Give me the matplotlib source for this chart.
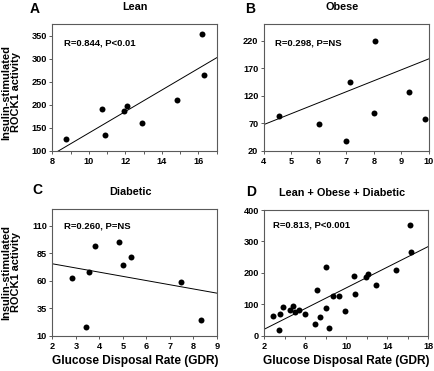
import matplotlib
matplotlib.use("Agg")
import matplotlib.pyplot as plt
import numpy as np

plt.rcParams['font.family'] = ['Liberation Sans', 'DejaVu Sans']
plt.rcParams['font.weight'] = 'bold'

# ---- data ----
lean_gdr = [8.75, 10.73, 10.89, 11.91, 12.09, 12.91, 14.80, 16.20, 16.29]
lean_rock = [125, 191, 134, 187, 197, 160, 210, 353, 265]

obese_gdr = [4.56, 6.02, 6.99, 7.13, 8.00, 8.04, 9.26, 9.85]
obese_rock = [83, 68, 38, 145, 88, 220, 127, 78]

diab_gdr = [2.83, 3.44, 3.56, 3.82, 4.83, 5.02, 5.36, 7.45, 8.30]
diab_rock = [62, 18, 68, 91, 95, 74, 81, 59, 24]

all_gdr = lean_gdr + obese_gdr + diab_gdr
all_rock = lean_rock + obese_rock + diab_rock

# regression lines as printed (slope, intercept)
fit_slopes = [23.3, 19.9, -3.81, 16.5]
fit_intercepts = [-94.1, -12.0, 82.9, -12.8]

panel_letters = ['A', 'B', 'C', 'D']
panel_titles = ['Lean', 'Obese', 'Diabetic', 'Lean + Obese + Diabetic']
stats_text = ['R=0.844, P<0.01', 'R=0.298, P=NS', 'R=0.260, P=NS', 'R=0.813, P<0.001']

xlims = [(8, 17), (4, 10), (2, 9), (2, 18)]
xticks = [[8, 10, 12, 14, 16], [4, 5, 6, 7, 8, 9, 10], [2, 3, 4, 5, 6, 7, 8, 9], [2, 6, 10, 14, 18]]
xminor = [[9, 11, 13, 15, 17], [], [], [4, 8, 12, 16]]
ylims = [(100, 375), (20, 250), (10, 125), (0, 400)]
yticks = [[100, 150, 200, 250, 300, 350], [20, 70, 120, 170, 220], [10, 35, 60, 85, 110], [0, 100, 200, 300, 400]]

ylabel_text = 'Insulin-stimulated\nROCK1 activity'
xlabel_text = 'Glucose Disposal Rate (GDR)'

W, H = 435, 371
fig = plt.figure(figsize=(W / 100, H / 100), dpi=100)

# axes rects in pixels: left, right, top, bottom
rects_px = [(52.3, 216.7, 24, 151), (263.5, 429, 24, 151),
            (52.3, 217, 209, 335.7), (264, 428.5, 210, 335.7)]
datasets = [(lean_gdr, lean_rock), (obese_gdr, obese_rock), (diab_gdr, diab_rock), (all_gdr, all_rock)]
stat_pos = [(0.073, 0.85), (0.07, 0.85), (0.071, 0.868), (0.057, 0.88)]

letter_px = [(35, 8.7), (250.3, 8.7), (37, 190), (251, 192)]
title_px = [(135, 7), (342.5, 7), (130, 192), (342.5, 193)]

spine_col = '#5a5a5a'

def fx(px):
    return px / W

def fy(py):
    return 1 - py / H

for i in range(4):
    l, r, t, b = rects_px[i]
    ax = fig.add_axes([l / W, 1 - b / H, (r - l) / W, (b - t) / H])
    xs, ys = datasets[i]
    ax.plot(xs, ys, 'o', color='black', markersize=4.3, markeredgewidth=0, zorder=3)
    xl = np.array(xlims[i], dtype=float)
    ax.plot(xl, fit_slopes[i] * xl + fit_intercepts[i], color='black', linewidth=0.7, zorder=2)
    ax.set_xlim(*xlims[i])
    ax.set_ylim(*ylims[i])
    ax.set_xticks(xticks[i])
    ax.set_xticks(xminor[i], minor=True)
    ax.set_yticks(yticks[i])
    for s in ax.spines.values():
        s.set_color(spine_col)
        s.set_linewidth(0.8)
    ax.tick_params(axis='both', which='major', direction='out', length=2.5, width=0.7,
                   color=spine_col, labelsize=6.6, pad=1.2)
    ax.tick_params(axis='x', which='minor', direction='out', length=2.0, width=0.7, color=spine_col)
    ax.tick_params(axis='x', which='major', pad=2.0)
    for lab in ax.get_xticklabels() + ax.get_yticklabels():
        lab.set_fontweight('bold')
    ax.text(stat_pos[i][0], stat_pos[i][1], stats_text[i], transform=ax.transAxes,
            fontsize=6.8, fontweight='bold', ha='left', va='center')

    fig.text(fx(letter_px[i][0]), fy(letter_px[i][1]), panel_letters[i], fontsize=10,
             fontweight='bold', ha='center', va='center')
    fig.text(fx(title_px[i][0]), fy(title_px[i][1]), panel_titles[i], fontsize=7.8,
             fontweight='bold', ha='center', va='center')

# y labels (left column)
for yc in [92, 272]:
    fig.text(fx(11), fy(yc), ylabel_text, rotation=90, fontsize=7.9, fontweight='bold',
             ha='center', va='center', multialignment='center', linespacing=1.05)

# x labels (bottom row)
for xc in [135, 346]:
    fig.text(fx(xc), fy(361), xlabel_text, fontsize=8.6, fontweight='bold',
             ha='center', va='center')

fig.savefig('out.png', dpi=100)
